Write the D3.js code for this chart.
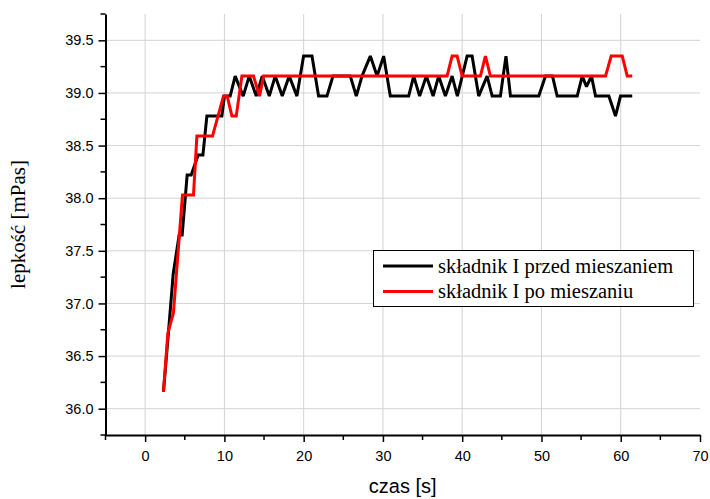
<!DOCTYPE html>
<html>
<head>
<meta charset="utf-8">
<script src="https://cdn.jsdelivr.net/npm/d3@7"></script>
<style>
  body { margin: 0; background: #fff; }
  svg { display: block; }
</style>
</head>
<body>
<svg id="chart" width="710" height="499"></svg>
<script>
// czas [s] / lepkość [mPas]
const blackTime = [2.31, 2.97, 3.54, 4.29, 4.67, 5.30, 5.81, 6.69, 7.29, 7.79, 9.68, 10.01, 10.73, 11.36, 12.37, 13.13, 14.02, 14.77, 15.66, 16.41, 17.30, 18.18, 19.15, 19.99, 21.05, 21.88, 22.94, 23.70, 25.88, 26.64, 27.36, 28.41, 29.26, 30.09, 30.93, 33.25, 33.88, 34.63, 35.48, 36.33, 37.03, 37.88, 38.73, 39.39, 40.62, 41.25, 42.08, 43.14, 43.78, 44.82, 45.52, 46.09, 49.66, 50.51, 51.39, 51.98, 54.51, 55.14, 55.68, 56.31, 56.82, 58.50, 59.34, 59.97, 61.45];
const blackVisc = [36.16, 36.75, 37.28, 37.65, 37.65, 38.22, 38.22, 38.41, 38.41, 38.78, 38.78, 38.97, 38.97, 39.16, 38.97, 39.16, 38.97, 39.16, 38.97, 39.16, 38.97, 39.16, 38.97, 39.35, 39.35, 38.97, 38.97, 39.16, 39.16, 38.97, 39.16, 39.35, 39.16, 39.35, 38.97, 38.97, 39.16, 38.97, 39.16, 38.97, 39.16, 38.97, 39.16, 38.97, 39.35, 39.35, 38.97, 39.16, 38.97, 38.97, 39.35, 38.97, 38.97, 39.16, 39.16, 38.97, 38.97, 39.16, 39.06, 39.16, 38.97, 38.97, 38.78, 38.97, 38.97];

const redTime = [2.31, 2.87, 3.57, 4.71, 6.10, 6.53, 8.50, 9.89, 10.35, 10.95, 11.49, 12.21, 13.67, 14.43, 14.94, 38.09, 38.73, 39.36, 39.99, 42.30, 42.93, 43.56, 58.08, 58.80, 60.19, 60.82, 61.45];
const redVisc = [36.16, 36.72, 36.91, 38.03, 38.03, 38.59, 38.59, 38.97, 38.97, 38.78, 38.78, 39.16, 39.16, 38.97, 39.16, 39.16, 39.35, 39.35, 39.16, 39.16, 39.35, 39.16, 39.16, 39.35, 39.35, 39.16, 39.16];

const seriesNames = ["składnik I przed mieszaniem", "składnik I po mieszaniu"];
const seriesColors = ["#000000", "#ff0000"];
const xTicks = [0, 10, 20, 30, 40, 50, 60, 70];
const yTicks = [36.0, 36.5, 37.0, 37.5, 38.0, 38.5, 39.0, 39.5];

const width = 710, height = 499;
const margin = { top: 14, right: 10, bottom: 64, left: 105.5 };

const svg = d3.select("#chart");

const x = d3.scaleLinear()
    .domain([-5, 70])
    .range([margin.left, width - margin.right]);

const y = d3.scaleLinear()
    .domain([35.75, 39.75])
    .range([height - margin.bottom, margin.top]);

const sansFont = "Arial, 'Liberation Sans', sans-serif";
const serifFont = "'Times New Roman', 'Liberation Serif', serif";

// grid
const grid = svg.append("g").attr("class", "grid");
grid.selectAll(".vgrid")
    .data(xTicks.filter(d => d < 70))
    .join("line")
    .attr("x1", d => x(d)).attr("x2", d => x(d))
    .attr("y1", y(35.75)).attr("y2", y(39.75))
    .attr("stroke", "#d3d3d3").attr("stroke-width", 1);
grid.selectAll(".hgrid")
    .data(yTicks)
    .join("line")
    .attr("x1", x(-5)).attr("x2", x(70))
    .attr("y1", d => y(d)).attr("y2", d => y(d))
    .attr("stroke", "#d3d3d3").attr("stroke-width", 1);

// lines
const line = d3.line()
    .x(d => x(d[0]))
    .y(d => y(d[1]));

const blackData = blackTime.map((t, i) => [t, blackVisc[i]]);
const redData = redTime.map((t, i) => [t, redVisc[i]]);

svg.append("g")
    .attr("class", "plot-area")
    .selectAll("path")
    .data([blackData, redData])
    .join("path")
    .attr("d", line)
    .attr("fill", "none")
    .attr("stroke", (d, i) => seriesColors[i])
    .attr("stroke-width", 3)
    .attr("stroke-linejoin", "miter")
    .attr("stroke-miterlimit", 2);

// axes
const xAxis = g => g
    .attr("transform", `translate(0,${y(35.75)})`)
    .call(d3.axisBottom(x).tickValues(xTicks).tickFormat(d3.format("d")).tickSize(7).tickSizeOuter(0))
    .call(a => a.selectAll(".minor")
        .data([-5, 5, 15, 25, 35, 45, 55, 65])
        .join("line")
        .attr("class", "minor")
        .attr("x1", d => x(d)).attr("x2", d => x(d))
        .attr("y1", 0).attr("y2", 5)
        .attr("stroke", "#000").attr("stroke-width", 1.5));

const yAxis = g => g
    .attr("transform", `translate(${x(-5)},0)`)
    .call(d3.axisLeft(y).tickValues(yTicks).tickFormat(d3.format(".1f")).tickSize(7).tickSizeOuter(0))
    .call(a => a.selectAll(".minor")
        .data([35.75, 36.25, 36.75, 37.25, 37.75, 38.25, 38.75, 39.25, 39.75])
        .join("line")
        .attr("class", "minor")
        .attr("x1", 0).attr("x2", -5)
        .attr("y1", d => y(d)).attr("y2", d => y(d))
        .attr("stroke", "#000").attr("stroke-width", 1.5));

svg.append("g").attr("class", "x-axis").call(xAxis);
svg.append("g").attr("class", "y-axis").call(yAxis);

svg.selectAll(".domain").attr("stroke-width", 2);
svg.selectAll(".tick line").attr("stroke-width", 1.5);
svg.selectAll(".tick text")
    .attr("font-size", 14.5)
    .attr("font-family", sansFont)
    .attr("fill", "#000");
svg.select(".x-axis").selectAll(".tick text").attr("dy", "1.1em");
svg.select(".y-axis").selectAll(".tick text").attr("x", -12);

// axis titles
svg.append("text")
    .attr("x", x(32.5))
    .attr("y", 493)
    .attr("text-anchor", "middle")
    .attr("font-family", sansFont)
    .attr("font-size", 20)
    .text("czas [s]");

svg.append("text")
    .attr("transform", `translate(25,${y(37.75)}) rotate(-90)`)
    .attr("text-anchor", "middle")
    .attr("font-family", serifFont)
    .attr("font-size", 21)
    .text("lepkość [mPas]");

// legend
const legend = svg.append("g").attr("class", "legend");
legend.append("rect")
    .attr("x", 373.5).attr("y", 250.5)
    .attr("width", 320).attr("height", 56)
    .attr("fill", "#fff").attr("stroke", "#000").attr("stroke-width", 1);
const item = legend.selectAll(".item")
    .data(seriesNames)
    .join("g")
    .attr("class", "item")
    .attr("transform", (d, i) => `translate(0,${266 + i * 25.5})`);
item.append("line")
    .attr("x1", 383).attr("x2", 433)
    .attr("stroke", (d, i) => seriesColors[i])
    .attr("stroke-width", 3);
item.append("text")
    .attr("x", 438).attr("y", 0).attr("dy", "0.33em")
    .attr("font-family", serifFont)
    .attr("font-size", 20.5)
    .text(d => d);
</script>
</body>
</html>
